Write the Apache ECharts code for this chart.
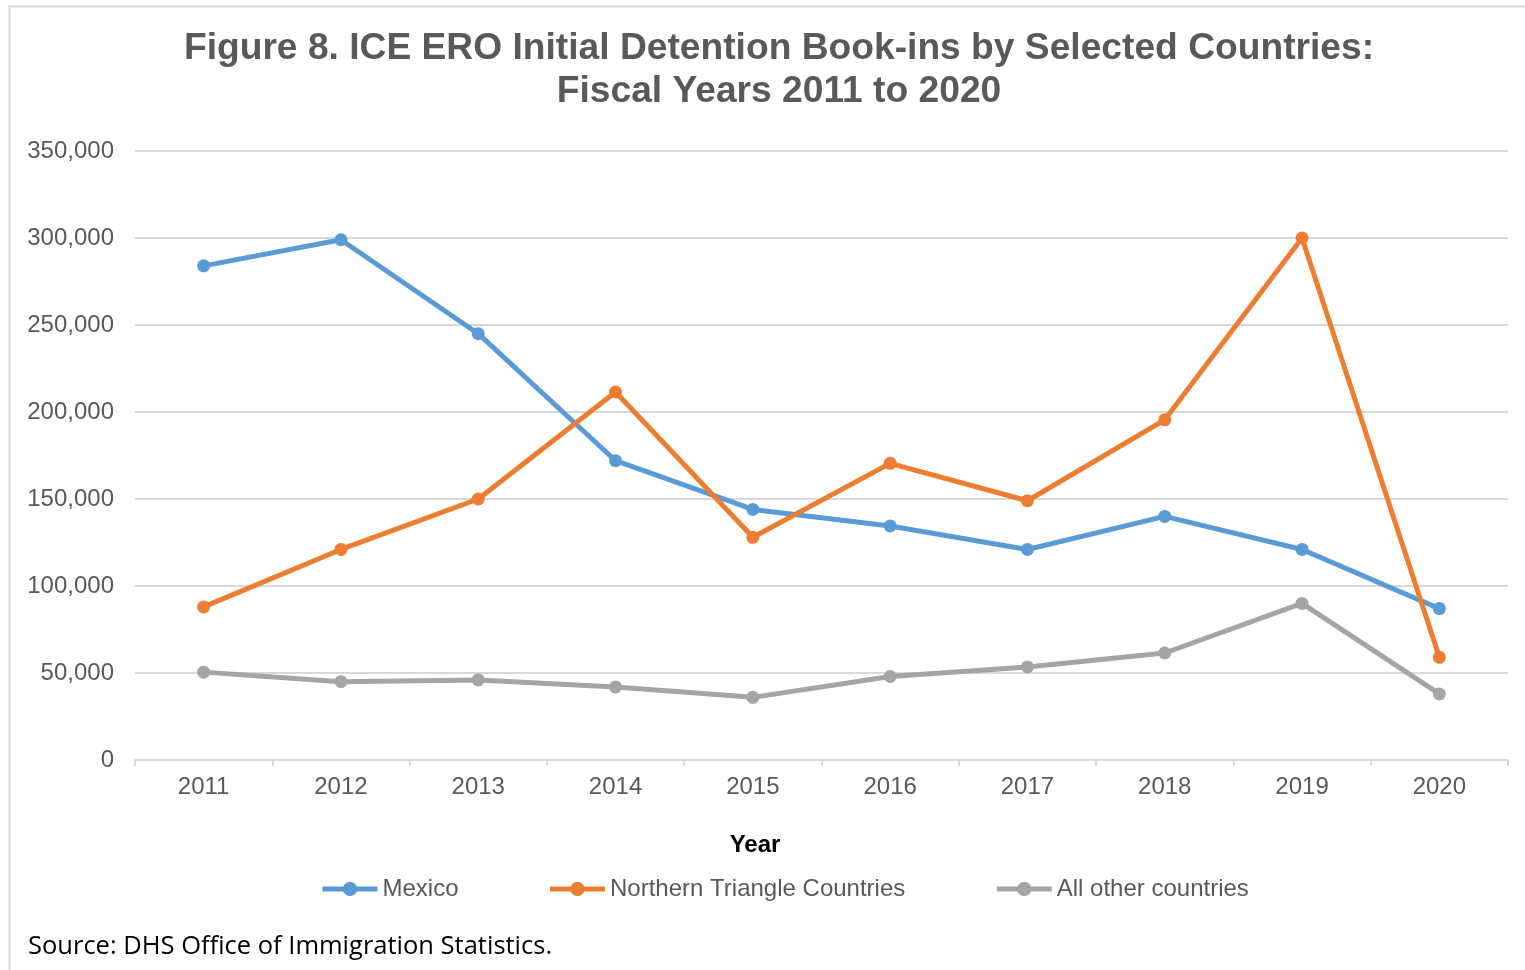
<!DOCTYPE html>
<html><head><meta charset="utf-8">
<script src="https://cdn.jsdelivr.net/npm/echarts@6/dist/echarts.min.js"></script>
<style>html,body{margin:0;padding:0;background:#fff}#c{width:1525px;height:970px}</style>
</head><body><div id="c"></div>
<script>
const years = ['2011','2012','2013','2014','2015','2016','2017','2018','2019','2020'];
const mexico = [284000, 299000, 245000, 172000, 144000, 134500, 121000, 140000, 121000, 87000];
const northernTriangle = [88000, 121000, 150000, 211500, 128000, 170500, 149000, 195500, 300000, 59000];
const allOther = [50500, 45000, 46000, 42000, 36000, 48000, 53500, 61500, 90000, 38000];
const seriesNames = ['Mexico', 'Northern Triangle Countries', 'All other countries'];
const colors = ['#5B9BD5', '#ED7D31', '#A5A5A5'];

const chart = echarts.init(document.getElementById('c'), null, {renderer: 'canvas'});
function mk(name, data, color) {
  return {
    name: name, type: 'line', data: data, color: color,
    symbol: 'circle', symbolSize: 13,
    lineStyle: {width: 5, color: color},
    itemStyle: {color: color},
    emphasis: {disabled: true}, animation: false
  };
}
chart.setOption({
  animation: false,
  title: {
    text: 'Figure 8. ICE ERO Initial Detention Book-ins by Selected Countries:\nFiscal Years 2011 to 2020',
    left: 774, top: 22, textAlign: 'center',
    textStyle: {fontFamily: 'Liberation Sans, Arial', fontSize: 37.2, fontWeight: 'bold', color: '#595959', lineHeight: 43}
  },
  legend: {
    left: 320, top: 877, padding: 0, itemWidth: 55, itemHeight: 18, itemGap: 89,
    data: seriesNames,
    lineStyle: {width: 5},
    textStyle: {fontFamily: 'Liberation Sans, Arial', fontSize: 24, color: '#595959'}
  },
  grid: {left: 135, right: 17, top: 151, bottom: 210, containLabel: false},
  xAxis: {
    type: 'category', data: years, boundaryGap: true,
    axisLine: {lineStyle: {color: '#d9d9d9', width: 2}},
    axisTick: {show: true, length: 6, alignWithLabel: false, lineStyle: {color: '#d9d9d9', width: 2}},
    axisLabel: {fontFamily: 'Liberation Sans, Arial', fontSize: 24, color: '#595959', margin: 15}
  },
  yAxis: {
    type: 'value', min: 0, max: 350000, interval: 50000,
    axisLine: {show: false}, axisTick: {show: false},
    splitLine: {lineStyle: {color: '#d9d9d9', width: 2}},
    axisLabel: {fontFamily: 'Liberation Sans, Arial', fontSize: 24, color: '#595959', margin: 21,
      formatter: v => v.toLocaleString('en-US')}
  },
  series: [
    mk(seriesNames[0], mexico, colors[0]),
    mk(seriesNames[1], northernTriangle, colors[1]),
    mk(seriesNames[2], allOther, colors[2])
  ],
  graphic: [
    {type: 'rect', left: 7, top: 4, shape: {width: 1530, height: 980},
     style: {fill: 'none', stroke: '#d9d9d9', lineWidth: 2}, silent: true},
    {type: 'text', x: 755, y: 845,
     style: {text: 'Year', fontFamily: 'Liberation Sans, Arial', fontSize: 24, fontWeight: 'bold', fill: '#000', align: 'center', verticalAlign: 'middle'}},
    {type: 'text', left: 28, top: 934,
     style: {text: 'Source: DHS Office of Immigration Statistics.', fontFamily: 'Open Sans, Noto Sans', fontSize: 25.5, fill: '#000'}}
  ]
});
</script></body></html>
